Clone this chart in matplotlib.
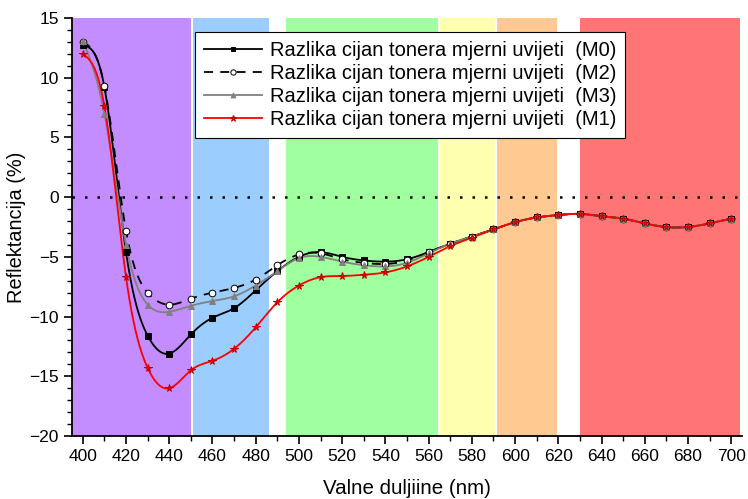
import numpy as np
import matplotlib
matplotlib.use("Agg")
import matplotlib.pyplot as plt
from matplotlib.ticker import MultipleLocator

plt.rcParams['font.family'] = ['Liberation Sans', 'DejaVu Sans']

# ---------------------------------------------------------------- data
wl = [400, 410, 420, 430, 440, 450, 460, 470, 480, 490, 500, 510, 520, 530, 540, 550,
      560, 570, 580, 590, 600, 610, 620, 630, 640, 650, 660, 670, 680, 690, 700]

m0 = [12.7, 9.2, -4.6, -11.6, -13.1, -11.5, -10.1, -9.3, -7.8, -6.2, -5.0, -4.6, -5.0, -5.3, -5.4, -5.2,
      -4.6, -3.9, -3.3, -2.7, -2.1, -1.7, -1.5, -1.4, -1.6, -1.8, -2.2, -2.5, -2.5, -2.2, -1.8]
m2 = [13.0, 9.3, -2.8, -8.0, -9.0, -8.5, -8.0, -7.6, -6.9, -5.7, -4.8, -4.7, -5.2, -5.5, -5.6, -5.3,
      -4.6, -3.9, -3.3, -2.7, -2.1, -1.7, -1.5, -1.4, -1.6, -1.8, -2.2, -2.5, -2.5, -2.2, -1.8]
m3 = [13.1, 7.0, -4.0, -9.0, -9.6, -9.1, -8.7, -8.3, -7.4, -6.2, -5.1, -5.0, -5.4, -5.7, -5.8, -5.5,
      -4.7, -3.9, -3.3, -2.7, -2.1, -1.7, -1.5, -1.4, -1.6, -1.8, -2.2, -2.5, -2.5, -2.2, -1.8]
m1 = [12.0, 7.6, -6.7, -14.3, -16.0, -14.5, -13.7, -12.7, -10.9, -8.8, -7.4, -6.7, -6.6, -6.5, -6.3, -5.8,
      -5.0, -4.1, -3.4, -2.7, -2.1, -1.7, -1.5, -1.4, -1.6, -1.8, -2.2, -2.5, -2.5, -2.2, -1.8]

labels = ['Razlika cijan tonera mjerni uvijeti  (M0)',
          'Razlika cijan tonera mjerni uvijeti  (M2)',
          'Razlika cijan tonera mjerni uvijeti  (M3)',
          'Razlika cijan tonera mjerni uvijeti  (M1)']

# spectral bands (start, end, colour)
band_start = [395, 451, 494, 565.5, 591.5, 630]
band_end = [450, 486, 564.5, 590.5, 619.5, 704]
band_color = ['#C38DFF', '#9CCDFF', '#A0FF9E', '#FFFFB0', '#FFC992', '#FF7576']


def smooth(x, y, n=600):
    # natural cubic spline, numpy only
    x = np.asarray(x, float)
    y = np.asarray(y, float)
    k = len(x)
    h = np.diff(x)
    A = np.zeros((k, k))
    r = np.zeros(k)
    A[0, 0] = A[-1, -1] = 1
    for i in range(1, k - 1):
        A[i, i - 1] = h[i - 1]
        A[i, i] = 2 * (h[i - 1] + h[i])
        A[i, i + 1] = h[i]
        r[i] = 3 * ((y[i + 1] - y[i]) / h[i] - (y[i] - y[i - 1]) / h[i - 1])
    c = np.linalg.solve(A, r)
    b = (np.diff(y) / h) - h * (2 * c[:-1] + c[1:]) / 3
    d = np.diff(c) / (3 * h)
    xs = np.linspace(x[0], x[-1], n)
    idx = np.clip(np.searchsorted(x, xs) - 1, 0, k - 2)
    t = xs - x[idx]
    ys = y[idx] + b[idx] * t + c[idx] * t ** 2 + d[idx] * t ** 3
    return xs, ys


fig = plt.figure(figsize=(7.48, 4.99), dpi=100)
ax = fig.add_axes([72 / 748, 1 - 436 / 499, 670 / 748, 418 / 499])

for s, e, col in zip(band_start, band_end, band_color):
    ax.axvspan(s, e, color=col, lw=0, zorder=0)

ax.axhline(0, color='black', ls=(0, (1, 4)), lw=1.8, zorder=1)

styles = [
    dict(color='black', ls='-', marker='s', mfc='black', mec='black', ms=4),
    dict(color='black', ls=(0, (5, 4)), marker='o', mfc='white', mec='black', ms=4.8),
    dict(color='#808080', ls='-', marker='^', mfc='#808080', mec='#808080', ms=4.5),
    dict(color='#FF0000', ls='-', marker='*', mfc='#FF0000', mec='#C00000', ms=5.5),
]
series = [m0, m2, m3, m1]
handles = []
for ser, st, lab in zip(series, styles, labels):
    xs, ys = smooth(wl, ser)
    ax.plot(xs, ys, color=st['color'], ls=st['ls'], lw=1.3, zorder=3)
    ax.plot(wl, ser, ls='none', marker=st['marker'], mfc=st['mfc'], mec=st['mec'],
            ms=st['ms'], mew=0.7, zorder=4)
    h, = ax.plot([], [], color=st['color'], ls=st['ls'], lw=1.3, marker=st['marker'],
                 mfc=st['mfc'], mec=st['mec'], ms=st['ms'] - 1, mew=0.7)
    handles.append(h)

ax.set_xlim(395, 705)
ax.set_ylim(-20, 15)
ax.xaxis.set_major_locator(MultipleLocator(20))
ax.xaxis.set_minor_locator(MultipleLocator(10))
ax.yaxis.set_major_locator(MultipleLocator(5))
ax.yaxis.set_minor_locator(MultipleLocator(1))
ax.tick_params(which='major', direction='out', length=6, width=1.2, labelsize=12.5)
ax.tick_params(which='minor', direction='out', length=3.5, width=1.0)
ax.spines['top'].set_visible(False)
ax.spines['right'].set_visible(False)
ax.spines['left'].set_linewidth(1.3)
ax.spines['bottom'].set_linewidth(1.3)

ax.set_xlabel('Valne duljiine (nm)', fontsize=14.8, labelpad=11)
ax.set_ylabel('Reflektancija (%)', fontsize=14.4, labelpad=2)

leg = ax.legend(handles, labels, loc='upper left', bbox_to_anchor=(0.1836, 0.967),
                borderaxespad=0, fontsize=14.5, frameon=True, fancybox=False,
                edgecolor='black', framealpha=1, handlelength=2.9, handletextpad=0.35,
                borderpad=0.45, labelspacing=0.2)
leg.get_frame().set_linewidth(0.8)

fig.savefig('out.png', dpi=100)
